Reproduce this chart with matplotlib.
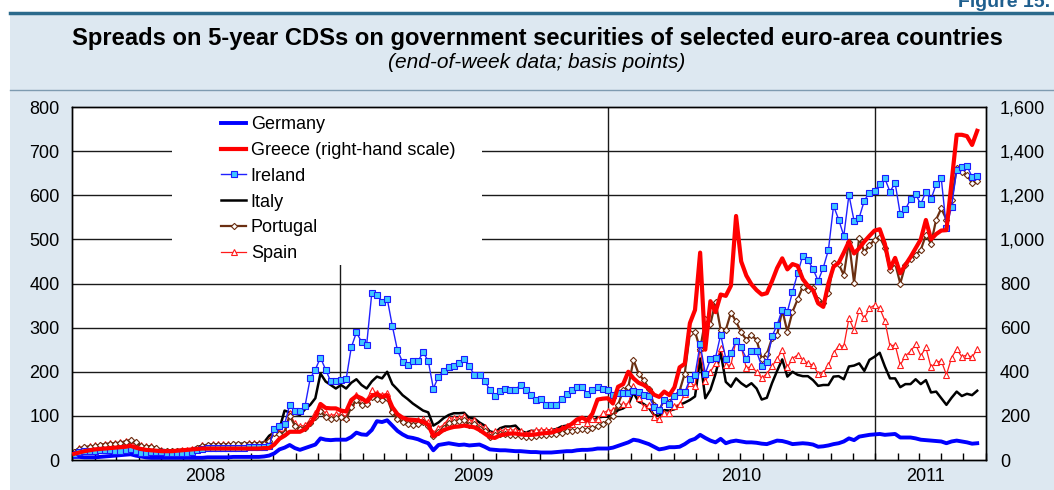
import numpy as np
import pandas as pd
import matplotlib
matplotlib.use("Agg")
import matplotlib.pyplot as plt
import matplotlib.dates as mdates
from matplotlib.lines import Line2D
from matplotlib.patches import Rectangle
from matplotlib.ticker import FuncFormatter

plt.rcParams['font.family'] = ['Liberation Sans', 'DejaVu Sans']

# -------------------------------
# DATA (end-of-week, basis points)
# -------------------------------
weeks = pd.date_range('2008-01-04', periods=177, freq='7D')

germany = [7, 7, 6, 6, 6, 7, 8, 9, 10, 11, 12, 13,
           10, 8, 6, 5, 5, 5, 5, 5, 5, 5, 5, 5, 5, 5, 6, 6, 6, 6, 6, 7, 7, 7, 7, 7, 7, 8,
           10, 15, 24, 28, 34, 27, 23, 27, 31, 35, 49, 46, 45, 46,
           46, 46, 52, 62, 58, 57, 68, 88, 86, 90, 78, 66, 58, 52, 50, 47, 42, 38, 22, 34,
           36, 38, 36, 34, 35, 33, 34, 35, 30, 24, 23, 22, 22, 21, 20, 20, 19, 18, 18, 17,
           17, 17, 18, 19, 20, 20, 22, 23, 23, 24, 26, 26, 26,
           28, 32, 36, 40, 46, 44, 40, 36, 30, 24, 26, 29, 29, 30, 36, 44, 48, 57, 50, 44,
           40, 48, 38, 42, 44, 42, 40, 40, 39, 37, 36, 40, 44, 43, 40, 36, 37, 38, 37, 35,
           30, 31, 33, 36, 38, 42, 49, 45, 53, 55, 57, 58, 59, 57, 58, 59, 51, 51, 51, 49,
           46, 45, 44, 43, 42, 38, 42, 44, 42, 40, 37, 38]

# Greece on the right-hand scale
greece = [28, 34, 40, 44, 48, 50, 52, 54, 56, 58, 60, 64, 56, 50, 46, 44, 42, 40, 40, 40,
          42, 44, 46, 48, 50, 52, 52, 52, 52, 52, 52, 52, 52, 52, 52, 52, 52, 54,
          54, 70, 96, 110, 128, 128, 128, 140, 164, 196, 254, 236, 234, 234,
          224, 220, 272, 290, 280, 264, 290, 300, 286, 294, 240, 208, 192, 184, 182, 180,
          172, 160, 108, 120, 136, 144, 150, 152, 156, 152, 148, 136, 120, 104, 100, 112,
          116, 120, 120, 116, 114, 114, 116, 120, 122, 124, 132, 140, 150, 164, 184, 192,
          180, 210, 274, 278, 280,
          256, 332, 344, 400, 370, 350, 340, 324, 296, 286, 310, 294, 330, 420, 436, 620,
          680, 940, 500, 720, 670, 750, 744, 790, 1106, 900, 836, 796, 770, 750, 756, 810,
          870, 914, 864, 888, 880, 820, 790, 770, 710, 694, 800, 876, 894, 940, 990, 936,
          960, 990, 1016, 1040, 1046, 980, 868, 916, 846, 884, 920, 960, 1000, 1088, 1000,
          1024, 1040, 1042, 1260, 1474, 1474, 1468, 1428, 1492]

ireland = [14, 18, 20, 20, 21, 22, 22, 23, 20, 21, 23, 25, 20, 15, 16, 17, 18, 17, 16, 15,
           15, 16, 16, 18, 22, 26, 27, 27, 27, 27, 28, 28, 28, 28, 29, 29, 30, 30,
           32, 70, 77, 81, 125, 112, 110, 123, 185, 205, 232, 205, 178, 178,
           181, 183, 255, 289, 268, 261, 378, 373, 359, 366, 304, 249, 222, 215, 224, 224,
           244, 225, 162, 189, 202, 210, 214, 219, 228, 212, 193, 193, 180, 159, 144, 156,
           160, 159, 159, 171, 159, 147, 136, 139, 125, 125, 125, 138, 150, 159, 165, 166,
           150, 159, 165, 160, 159,
           147, 152, 151, 151, 156, 155, 147, 144, 121, 113, 136, 128, 145, 153, 153, 183,
           193, 263, 196, 228, 232, 284, 230, 242, 270, 255, 230, 248, 246, 212, 221, 280,
           306, 341, 336, 381, 423, 463, 453, 433, 406, 436, 476, 576, 545, 508, 601, 542,
           549, 588, 606, 610, 625, 638, 608, 628, 557, 568, 591, 602, 580, 608, 591, 625,
           638, 525, 574, 657, 663, 666, 642, 644]

italy = [20, 26, 29, 30, 32, 34, 36, 37, 38, 39, 42, 44, 40, 33, 30, 31, 27, 23, 22, 22,
         22, 23, 23, 25, 29, 33, 34, 35, 35, 35, 35, 36, 37, 37, 37, 38, 38, 40,
         55, 63, 70, 112, 108, 105, 102, 115, 125, 140, 196, 178, 170, 162,
         170, 162, 175, 183, 170, 162, 178, 189, 185, 200, 172, 160, 147, 138, 128, 120,
         112, 108, 78, 85, 95, 102, 106, 106, 107, 95, 94, 85, 78, 65, 62, 72, 76, 76,
         78, 66, 62, 66, 66, 66, 66, 68, 70, 76, 78, 82, 87, 88, 85, 88, 96, 98, 98,
         102, 113, 117, 125, 153, 132, 127, 118, 102, 100, 113, 112, 115, 125, 130, 136,
         144, 230, 140, 159, 195, 243, 177, 166, 185, 174, 166, 174, 162, 137, 141, 174,
         202, 228, 189, 200, 193, 190, 190, 181, 168, 170, 170, 189, 190, 183, 212, 214,
         219, 202, 227, 234, 243, 212, 185, 185, 165, 172, 172, 183, 172, 181, 153, 155,
         140, 125, 141, 155, 145, 150, 147, 157]

portugal = [17, 26, 29, 30, 31, 33, 35, 36, 37, 38, 41, 45, 40, 32, 30, 30, 27, 21, 20, 20,
            20, 21, 21, 23, 27, 32, 34, 35, 35, 35, 35, 36, 36, 36, 37, 37, 37, 37,
            42, 62, 60, 62, 100, 78, 70, 72, 84, 98, 110, 98, 92, 96,
            98, 92, 120, 135, 125, 128, 143, 138, 135, 140, 108, 93, 86, 82, 80, 82,
            85, 78, 55, 64, 72, 84, 86, 88, 90, 80, 82, 70, 66, 52, 56, 58, 60, 56,
            56, 54, 52, 53, 55, 56, 57, 58, 60, 62, 65, 65, 68, 70, 68, 72, 76, 82, 88,
            100, 125, 158, 165, 227, 196, 181, 162, 125, 113, 136, 132, 145, 157, 196, 287,
            291, 251, 319, 308, 359, 295, 295, 334, 314, 289, 273, 283, 272, 230, 240, 276,
            283, 340, 291, 336, 364, 393, 385, 389, 363, 355, 379, 446, 444, 419, 495, 402,
            504, 471, 487, 499, 506, 481, 431, 446, 400, 442, 455, 465, 476, 510, 490, 545,
            570, 545, 589, 661, 653, 646, 627, 633]

spain = [17, 27, 30, 31, 33, 35, 37, 38, 39, 40, 43, 46, 41, 33, 31, 31, 28, 22, 21, 21,
         21, 22, 22, 24, 28, 33, 35, 36, 36, 36, 36, 37, 37, 37, 38, 38, 38, 38,
         45, 68, 64, 66, 106, 83, 76, 79, 91, 106, 117, 106, 100, 104,
         104, 98, 132, 147, 134, 137, 159, 151, 148, 151, 115, 100, 92, 88, 87, 90,
         92, 85, 62, 72, 80, 94, 96, 96, 100, 88, 91, 76, 74, 59, 66, 66, 69, 68,
         68, 66, 60, 64, 68, 68, 69, 68, 69, 72, 76, 82, 88, 94, 83, 92, 92, 106, 112,
         113, 125, 127, 127, 168, 141, 121, 125, 98, 92, 107, 106, 122, 127, 149, 174,
         168, 253, 178, 200, 219, 253, 215, 215, 272, 257, 208, 212, 200, 185, 196, 212,
         230, 249, 210, 230, 238, 227, 219, 215, 196, 198, 215, 242, 259, 258, 321, 295,
         340, 321, 344, 351, 344, 316, 258, 261, 215, 236, 246, 262, 236, 255, 210, 221,
         225, 193, 232, 251, 234, 238, 233, 251]

years = ['2008', '2009', '2010', '2011']
year_starts = ['2009-01-01', '2010-01-01', '2011-01-01']
left_ticks = list(range(0, 801, 100))
right_ticks = list(range(0, 1601, 200))

# -------------------------------
# FIGURE FRAME
# -------------------------------
W, H = 1054, 490
fig = plt.figure(figsize=(W / 100, H / 100), dpi=100)
fig.patches.append(Rectangle((10 / W, 0), 1 - 10 / W, 1 - 14 / H, transform=fig.transFigure,
                             facecolor='#dde8f1', edgecolor='none', zorder=-10))
fig.add_artist(Line2D([10 / W, 1], [1 - 13 / H] * 2, color='#2b6a8c', lw=2.5))
fig.add_artist(Line2D([10 / W, 1], [1 - 90 / H] * 2, color='#7e9bb0', lw=1))
fig.text(958 / W, 1 - 7 / H, 'Figure 15.', color='#1f5f8e', fontsize=14, fontweight='bold',
         ha='left', va='baseline')
fig.text(537 / W, 1 - 38 / H,
         'Spreads on 5-year CDSs on government securities of selected euro-area countries',
         ha='center', va='center', fontsize=17.1, fontweight='bold')
fig.text(537 / W, 1 - 63 / H, '(end-of-week data; basis points)', ha='center', va='center',
         fontsize=15, style='italic')

ax = fig.add_axes([72 / W, 30 / H, 914 / W, 353 / H])
ax.set_facecolor('white')

# grid
for v in left_ticks[1:-1]:
    ax.axhline(v, color='#1a1a1a', lw=1, zorder=1)
for d in year_starts:
    ax.axvline(pd.Timestamp(d), color='#1a1a1a', lw=1, zorder=1)
# white box behind the legend
ax.add_patch(Rectangle((0.1094, 0.5524), 0.3392, 0.4476, transform=ax.transAxes,
                       facecolor='white', edgecolor='none', zorder=1.5))

# -------------------------------
# SERIES
# -------------------------------
l_de, = ax.plot(weeks, germany, color='#0000ff', lw=2.8, zorder=3, label='Germany')
l_it, = ax.plot(weeks, italy, color='black', lw=1.8, zorder=3, label='Italy')
l_es, = ax.plot(weeks, spain, color='#ff1a1a', lw=0.9, marker='^', ms=4.5, mfc='white',
                mec='#ff1a1a', mew=0.8, zorder=4, label='Spain')
l_pt, = ax.plot(weeks, portugal, color='#6b2f12', lw=1.6, marker='D', ms=3.2, mfc='white',
                mec='#6b2f12', mew=0.8, zorder=5, label='Portugal')
l_ie, = ax.plot(weeks, ireland, color='#2020ff', lw=1, marker='s', ms=4.2, mfc='#3fc8ff',
                mec='#1a1aff', mew=0.8, zorder=6, label='Ireland')

ax2 = ax.twinx()
l_gr, = ax2.plot(weeks, greece, color='#ff0000', lw=3, zorder=3,
                 label='Greece (right-hand scale)')

# -------------------------------
# AXES
# -------------------------------
ax.set_xlim(pd.Timestamp('2008-01-01'), pd.Timestamp('2011-06-01'))
ax.set_ylim(0, 800)
ax2.set_ylim(0, 1600)
ax.set_yticks(left_ticks)
ax2.set_yticks(right_ticks)
ax2.yaxis.set_major_formatter(FuncFormatter(lambda v, p: f'{int(v):,}'))
ax.tick_params(axis='y', length=0, pad=9, labelsize=13)
ax2.tick_params(axis='y', length=0, pad=10, labelsize=13)

mids = [pd.Timestamp('2008-07-01'), pd.Timestamp('2009-07-02'), pd.Timestamp('2010-07-02'),
        pd.Timestamp('2011-03-10')]
ax.set_xticks(mids)
ax.set_xticklabels(years)
ax.xaxis.set_minor_locator(mdates.MonthLocator())
ax.tick_params(axis='x', which='major', length=0, pad=6, labelsize=13)
ax.tick_params(axis='x', which='minor', direction='in', length=5, width=1, color='black')

for a in (ax, ax2):
    for s in a.spines.values():
        s.set_color('black')
        s.set_linewidth(1)

handles = [l_de, l_gr, l_ie, l_it, l_pt, l_es]
ax2.legend(handles, [h.get_label() for h in handles], loc='upper left',
           bbox_to_anchor=(221 / W, 1 - 116 / H), bbox_transform=fig.transFigure,
           frameon=False, fontsize=13, handlelength=1.4, handletextpad=0.25,
           labelspacing=0.49, borderpad=0, borderaxespad=0, numpoints=1)

fig.savefig('out.png', dpi=100)
